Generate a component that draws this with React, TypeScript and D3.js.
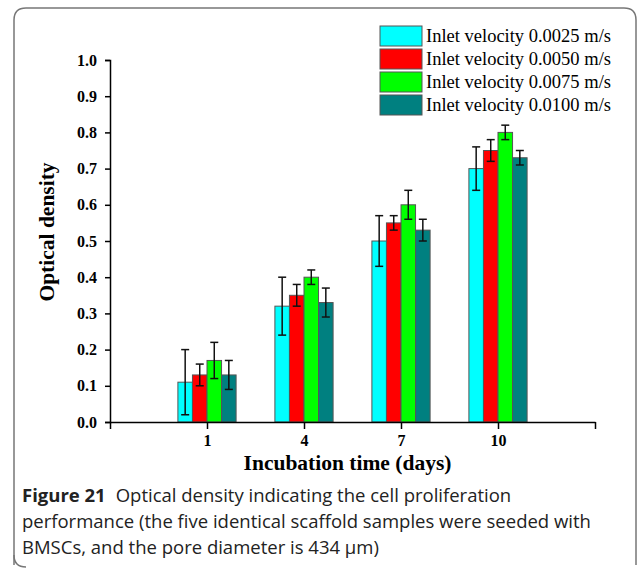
import * as d3 from "d3";
import { useEffect, useRef } from "react";

const days = ["1", "4", "7", "10"];
const seriesNames = [
  "Inlet velocity 0.0025 m/s",
  "Inlet velocity 0.0050 m/s",
  "Inlet velocity 0.0075 m/s",
  "Inlet velocity 0.0100 m/s",
];
const colors = ["#00ffff", "#ff0000", "#00ff00", "#008080"];
const means = [
  [0.11, 0.32, 0.5, 0.7],
  [0.13, 0.35, 0.55, 0.75],
  [0.17, 0.4, 0.6, 0.8],
  [0.13, 0.33, 0.53, 0.73],
];
const errors = [
  [0.09, 0.08, 0.07, 0.06],
  [0.03, 0.03, 0.02, 0.03],
  [0.05, 0.02, 0.04, 0.02],
  [0.04, 0.04, 0.03, 0.02],
];
const yTicks = [0, 0.1, 0.2, 0.3, 0.4, 0.5, 0.6, 0.7, 0.8, 0.9, 1.0];
const captionLines = [
  "Optical density indicating the cell proliferation",
  "performance (the five identical scaffold samples were seeded with",
  "BMSCs, and the pore diameter is 434 μm)",
];

const App = () => {
  const svgRef = useRef<SVGSVGElement>(null);

  useEffect(() => {
    const svg = d3.select(svgRef.current).html("");
    const serif = "'Liberation Serif', 'Times New Roman', serif";
    const sans = "'Open Sans', 'Noto Sans', sans-serif";

    // frame
    svg.append("path")
      .attr("d", "M14,565 L14,20 Q14,8 26,8 L624,8 Q636,8 636,20 L636,565")
      .attr("fill", "none")
      .attr("stroke", "#777")
      .attr("stroke-width", 1.5);
    svg.append("path")
      .attr("d", "M14,555 Q14,567 26,567")
      .attr("fill", "none")
      .attr("stroke", "#777")
      .attr("stroke-width", 1.5);

    const x = d3.scaleLinear().domain([0, 5]).range([110, 595]);
    const y = d3.scaleLinear().domain([0, 1]).range([422, 60]);
    const groupW = 0.6;
    const barW = groupW / seriesNames.length;

    // bars
    seriesNames.forEach((_, s) => {
      const g = svg.append("g");
      days.forEach((_, i) => {
        const left = i + 1 - groupW / 2 + s * barW;
        g.append("rect")
          .attr("x", x(left))
          .attr("y", y(means[s][i]))
          .attr("width", x(left + barW) - x(left))
          .attr("height", y(0) - y(means[s][i]))
          .attr("fill", colors[s])
          .attr("stroke", "#555")
          .attr("stroke-width", 1);
      });
    });

    // error bars
    seriesNames.forEach((_, s) => {
      days.forEach((_, i) => {
        const cx = x(i + 1 - groupW / 2 + (s + 0.5) * barW);
        const top = y(means[s][i] + errors[s][i]);
        const bot = y(means[s][i] - errors[s][i]);
        const eg = svg.append("g").attr("stroke", "#111").attr("stroke-width", 1.5);
        eg.append("line").attr("x1", cx).attr("x2", cx).attr("y1", top).attr("y2", bot);
        eg.append("line").attr("x1", cx - 4).attr("x2", cx + 4).attr("y1", top).attr("y2", top);
        eg.append("line").attr("x1", cx - 4).attr("x2", cx + 4).attr("y1", bot).attr("y2", bot);
      });
    });

    // y axis
    const yAxis = svg.append("g").attr("transform", `translate(${x(0)},0)`);
    yAxis.call(
      d3.axisLeft(y).tickValues(d3.range(0.05, 1, 0.1)).tickSize(2.5).tickFormat(() => "")
    );
    yAxis.call(
      d3.axisLeft(y).tickValues(yTicks).tickSize(5).tickPadding(8).tickFormat(d3.format(".1f"))
    );
    yAxis.selectAll("path.domain").attr("stroke-width", 1.5);
    yAxis.selectAll("line").attr("stroke-width", 1.5);
    yAxis.selectAll("text")
      .attr("font-family", serif)
      .attr("font-weight", "bold")
      .attr("font-size", 16)
      .attr("fill", "#000");

    // x axis
    const xAxis = svg.append("g").attr("transform", `translate(0,${y(0)})`);
    xAxis.call(
      d3.axisBottom(x).tickValues([0.5, 1.5, 2.5, 3.5, 4.5]).tickSize(4).tickSizeOuter(0).tickFormat(() => "")
    );
    xAxis.call(
      d3.axisBottom(x)
        .tickValues([0, 1, 2, 3, 4, 5])
        .tickSize(7)
        .tickSizeOuter(0)
        .tickPadding(6)
        .tickFormat((d) => (+d >= 1 && +d <= 4 ? days[+d - 1] : ""))
    );
    xAxis.selectAll("path.domain").attr("stroke-width", 1.5);
    xAxis.selectAll("line").attr("stroke-width", 1.5);
    xAxis.selectAll("text")
      .attr("font-family", serif)
      .attr("font-weight", "bold")
      .attr("font-size", 16)
      .attr("fill", "#000");

    // axis titles
    svg.append("text")
      .attr("transform", `translate(54,232) rotate(-90)`)
      .attr("text-anchor", "middle")
      .attr("font-family", serif)
      .attr("font-weight", "bold")
      .attr("font-size", 21.5)
      .text("Optical density");
    svg.append("text")
      .attr("x", (x(0) + x(5)) / 2 - 5)
      .attr("y", 470)
      .attr("text-anchor", "middle")
      .attr("font-family", serif)
      .attr("font-weight", "bold")
      .attr("font-size", 21.5)
      .text("Incubation time (days)");

    // legend
    const legend = svg.append("g").attr("transform", "translate(380,26)");
    seriesNames.forEach((name, s) => {
      const row = legend.append("g").attr("transform", `translate(0,${s * 23})`);
      row.append("rect")
        .attr("width", 42)
        .attr("height", 20)
        .attr("fill", colors[s])
        .attr("stroke", "#555")
        .attr("stroke-width", 1);
      row.append("text")
        .attr("x", 46)
        .attr("y", 16)
        .attr("font-family", serif)
        .attr("font-size", 18.5)
        .text(name);
    });

    // caption
    const cap = svg.append("text")
      .attr("font-family", sans)
      .attr("font-size", 18.5)
      .attr("fill", "#222");
    const first = cap.append("tspan").attr("x", 22).attr("y", 502);
    first.append("tspan").attr("font-weight", "bold").text("Figure 21");
    first.append("tspan").attr("dx", 10).text(captionLines[0]);
    captionLines.slice(1).forEach((line, i) => {
      cap.append("tspan").attr("x", 22).attr("y", 528 + i * 26).text(line);
    });
  }, []);

  return (
    <svg
      ref={svgRef}
      width={637}
      height={568}
      style={{ position: "absolute", left: 0, top: 0, background: "#fff" }}
    />
  );
};

export default App;
